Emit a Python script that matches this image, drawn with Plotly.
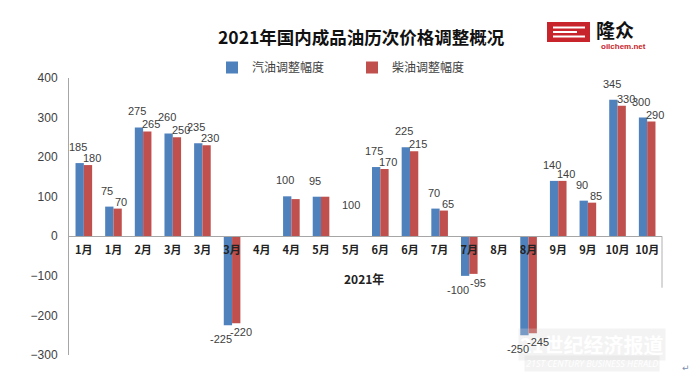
import plotly.graph_objects as go

categories = ["1月", "1月", "2月", "3月", "3月", "3月", "4月", "4月", "5月", "5月",
              "6月", "6月", "7月", "7月", "8月", "8月", "9月", "9月", "10月", "10月"]
gasoline = [185, 75, 275, 260, 235, -225, None, 101, 100, None,
            175, 225, 70, -100, None, -250, 140, 90, 345, 300]
diesel = [180, 70, 265, 250, 230, -220, None, 94, 100, None,
          170, 215, 65, -95, None, -245, 140, 85, 330, 290]
gasoline_labels = ["185", "75", "275", "260", "235", "-225", None, "100", "95", "100",
                   "175", "225", "70", "-100", None, "-250", "140", "90", "345", "300"]
diesel_labels = ["180", "70", "265", "250", "230", "-220", None, None, None, None,
                 "170", "215", "65", "-95", None, "-245", "140", "85", "330", "290"]
x_title = "2021年"
title = "2021年国内成品油历次价格调整概况"
series_names = ["汽油调整幅度", "柴油调整幅度"]

W, H = 700, 383
L, R, T, B = 69, 662, 78, 355
def px(x):
    return (x - L) / (R - L)
def py(y):
    return (B - y) / (B - T)

BLUE = "#4F81BD"
RED = "#C0504D"
CJK = "Noto Sans CJK SC"
idx = list(range(len(categories)))

fig = go.Figure()
fig.add_trace(go.Bar(x=idx, y=gasoline, name=series_names[0], marker_color=BLUE,
                     marker_line_width=0))
fig.add_trace(go.Bar(x=idx, y=diesel, name=series_names[1], marker_color=RED,
                     marker_line_width=0))

def pann(x, y, text, font, **kw):
    d = dict(x=px(x), y=py(y), xref="paper", yref="paper", text=text, showarrow=False,
             xanchor="center", yanchor="middle", font=font)
    d.update(kw)
    return d

ann = []
# watermark (drawn first, under labels)
ann.append(pann(592, 344, "<b>21世纪经济报道</b>", dict(family=CJK, size=20, color="#ffffff"),
                bgcolor="rgba(215,215,215,0.3)", borderpad=1))
ann.append(pann(592, 363, "<i>21ST CENTURY BUSINESS HERALD</i>",
                dict(family="Open Sans", size=9, color="#ffffff"),
                bgcolor="rgba(215,215,215,0.3)"))
ann.append(pann(686, 368, "↵", dict(family="DejaVu Sans", size=9, color="#7a8fb0")))

lab_font = dict(family="Liberation Sans", size=11, color="#404040")
for i in idx:
    g, d = gasoline[i], diesel[i]
    gl, dl = gasoline_labels[i], diesel_labels[i]
    if gl is not None:
        if g is None:
            ann.append(dict(x=i, y=float(gl), text=gl, showarrow=False, yanchor="top",
                            font=lab_font))
        elif g >= 0:
            ann.append(dict(x=i, y=g, text=gl, showarrow=False, yanchor="bottom",
                            xshift=-6, yshift=8, font=lab_font))
        else:
            ann.append(dict(x=i, y=g, text=gl, showarrow=False, yanchor="top",
                            xshift=-11, yshift=-6, font=lab_font))
    if dl is not None and d is not None:
        if d >= 0:
            ann.append(dict(x=i, y=d, text=dl, showarrow=False, yanchor="bottom",
                            xshift=8, yshift=-1, font=lab_font))
        else:
            ann.append(dict(x=i, y=d, text=dl, showarrow=False, yanchor="top",
                            xshift=9, yshift=-1, font=lab_font))

# x axis title
ann.append(pann(364, 278, "<b>" + x_title + "</b>", dict(family=CJK, size=12, color="#222222")))
# title
ann.append(pann(361, 36, "<b>" + title + "</b>", dict(family=CJK, size=17.5, color="#111111")))
# logo text
ann.append(pann(615, 30, "<b>隆众</b>", dict(family=CJK, size=19, color="#111111")))
ann.append(pann(623, 46.5, "<b>oilchem.net</b>",
                dict(family="Liberation Sans", size=8, color="#C8242B")))

shapes = [
    dict(type="rect", xref="paper", yref="paper", x0=px(547), x1=px(590), y0=py(42), y1=py(22),
         fillcolor="#C8242B", line_width=0),
    dict(type="line", xref="paper", yref="paper", x0=px(553), x1=px(585), y0=py(27.5), y1=py(27.5),
         line=dict(color="white", width=2)),
    dict(type="line", xref="paper", yref="paper", x0=px(553), x1=px(577), y0=py(32), y1=py(32),
         line=dict(color="white", width=2)),
    dict(type="line", xref="paper", yref="paper", x0=px(553), x1=px(585), y0=py(36.5), y1=py(36.5),
         line=dict(color="white", width=2)),
    dict(type="line", xref="paper", yref="y", x0=1, x1=1, y0=0, y1=-130,
         line=dict(color="#B0B0B0", width=1)),
]

fig.update_layout(
    width=W, height=H,
    margin=dict(l=L, r=W - R, t=T, b=H - B, pad=0, autoexpand=False),
    paper_bgcolor="white", plot_bgcolor="white",
    barmode="group", bargap=0.44, bargroupgap=0,
    showlegend=True,
    legend=dict(orientation="h", x=px(212), y=py(53), xanchor="left", yanchor="top",
                font=dict(family=CJK, size=12, color="#404040"),
                entrywidth=95, entrywidthmode="pixels", itemwidth=30,
                bgcolor="rgba(0,0,0,0)"),
    annotations=ann,
    shapes=shapes,
    xaxis=dict(range=[-0.5, len(categories) - 0.5], tickmode="array", tickvals=idx,
               ticktext=["<b>" + c + "</b>" for c in categories],
               tickfont=dict(family=CJK, size=11, color="#222222"),
               anchor="free", position=300 / 700, showline=True, linecolor="#A6A6A6",
               linewidth=1, ticks="", showgrid=False, zeroline=False, ticklabelstandoff=4,
               automargin=False),
    yaxis=dict(range=[-300, 400], tickvals=[-300, -200, -100, 0, 100, 200, 300, 400],
               tickfont=dict(family="Liberation Sans", size=12, color="#404040"),
               showline=True, linecolor="#A6A6A6", linewidth=1, ticks="", showgrid=False,
               zeroline=False, ticklabelstandoff=8, automargin=False),
)

fig.write_html("out.html", config={"displayModeBar": False},
               post_script="document.body.style.margin='0';")
